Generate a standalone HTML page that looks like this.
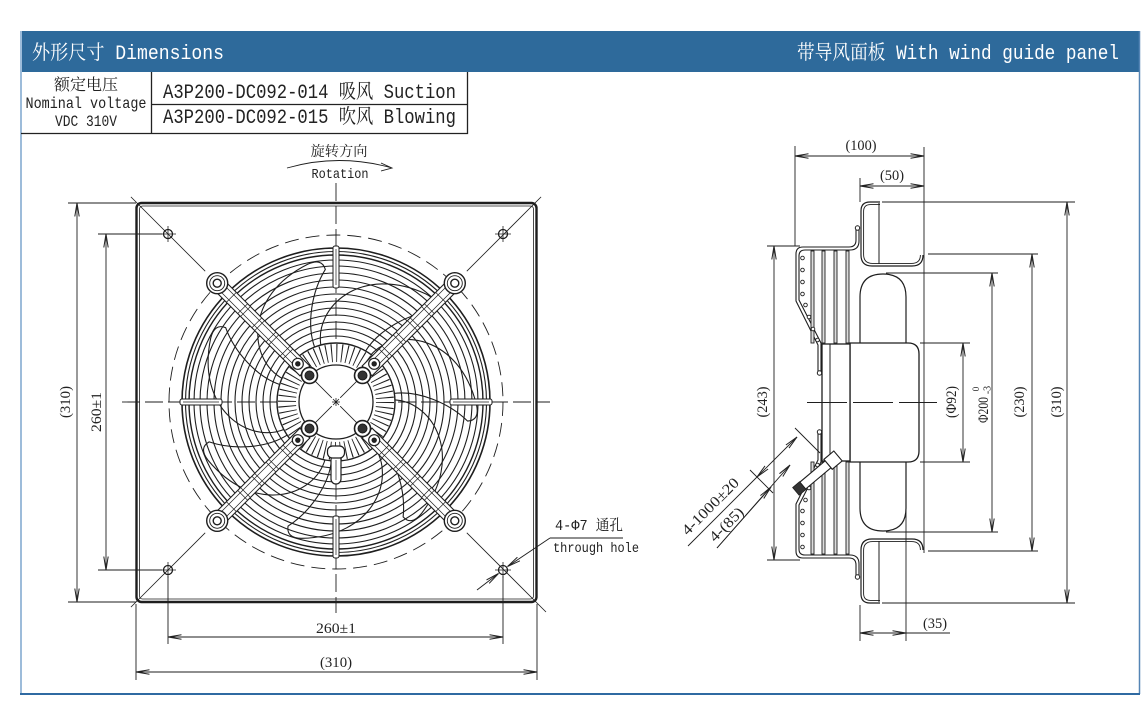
<!DOCTYPE html>
<html><head><meta charset="utf-8">
<style>
html,body{margin:0;padding:0;background:#fff;width:1147px;height:710px;overflow:hidden}
svg{display:block}
.m{font-family:"Liberation Mono","Noto Serif CJK SC",monospace}
.s{font-family:"Liberation Serif","Noto Serif CJK SC",serif}
</style></head>
<body>
<svg width="1147" height="710" viewBox="0 0 1147 710" xmlns="http://www.w3.org/2000/svg">
<defs>
 <marker id="ar" viewBox="0 0 14 8" markerWidth="14" markerHeight="8" refX="13.5" refY="4" orient="auto-start-reverse" markerUnits="userSpaceOnUse">
  <path d="M0,1.8 L13.5,4 L0,6.2" fill="none" stroke="#222" stroke-width="1"/>
 </marker>
 <path id="bl" d="M-15,-56 C-22,-95 25,-138 90,-108 Q104,-101 97,-91 C72,-88 42,-72 29,-50"/>
 <g id="arm">
  <rect x="44" y="-7" width="124" height="14" fill="#fff" stroke-width="1.1"/>
  <path d="M52,-3.5 H160 M52,3.5 H160" stroke-width="0.7"/>
  <path d="M68,-7 V7 M72,-7 V7 M88,-7 V7 M92,-7 V7 M108,-7 V7 M112,-7 V7 M128,-7 V7 M132,-7 V7 M148,-7 V7" stroke-width="0.7"/>
  <circle cx="168" cy="0" r="10.5" fill="#fff" stroke-width="1.4"/>
  <circle cx="168" cy="0" r="7.5" stroke-width="0.9"/>
  <circle cx="168" cy="0" r="4" stroke-width="1.4"/>
  <circle cx="54" cy="0" r="5.5" fill="#fff" stroke-width="1.2"/>
  <circle cx="54" cy="0" r="2.2" fill="#222"/>
  <circle cx="37.5" cy="0" r="8" fill="#fff" stroke-width="1.6"/>
  <circle cx="37.5" cy="0" r="4.5" fill="#333"/>
 </g>
 <g id="clip">
  <rect x="-3" y="-156" width="6" height="42" rx="2" fill="#fff" stroke-width="1"/>
  <line x1="0" y1="-153" x2="0" y2="-117" stroke-width="0.7"/>
 </g>
 <g id="hole">
  <circle cx="0" cy="0" r="4.5" stroke-width="1.3"/>
  <path d="M-8,0 H8 M0,-8 V8" stroke-width="0.8"/>
 </g>
</defs>

<!-- frame & header -->
<rect x="20" y="31" width="1120" height="41" fill="#2e6a9b"/>
<text x="32" y="59" class="m" font-size="20" fill="#fff" textLength="192" lengthAdjust="spacingAndGlyphs">外形尺寸 Dimensions</text>
<text x="797" y="59" class="m" font-size="20" fill="#fff" textLength="322" lengthAdjust="spacingAndGlyphs">带导风面板 With wind guide panel</text>
<line x1="21" y1="31" x2="21" y2="694" stroke="#9dbcda" stroke-width="2"/>
<line x1="1139.5" y1="31" x2="1139.5" y2="694" stroke="#5585b5" stroke-width="1.5"/>
<line x1="20" y1="694" x2="1140" y2="694" stroke="#2f6aa2" stroke-width="2"/>

<!-- table -->
<path d="M21,133.5 H467.5 V72 M151.5,72 V133.5 M151.5,104.5 H467.5" stroke="#222" stroke-width="1.3" fill="none"/>
<g fill="#222" class="m">
 <text x="86" y="90" text-anchor="middle" font-size="16" textLength="64" lengthAdjust="spacingAndGlyphs">额定电压</text>
 <text x="86" y="108" text-anchor="middle" font-size="16" textLength="121" lengthAdjust="spacingAndGlyphs">Nominal voltage</text>
 <text x="86" y="126" text-anchor="middle" font-size="16" textLength="62" lengthAdjust="spacingAndGlyphs">VDC 310V</text>
 <text x="163" y="98" font-size="20" textLength="293" lengthAdjust="spacingAndGlyphs">A3P200-DC092-014 吸风 Suction</text>
 <text x="163" y="123" font-size="20" textLength="293" lengthAdjust="spacingAndGlyphs">A3P200-DC092-015 吹风 Blowing</text>
</g>

<!-- ========== FRONT VIEW ========== -->
<g stroke="#1e1e1e" fill="none">
 <rect x="136.5" y="203" width="400" height="399" rx="5" stroke-width="2.4"/>
 <rect x="139.5" y="206" width="394" height="393" rx="3" stroke-width="0.8"/>
 <line x1="122" y1="402" x2="550" y2="402" stroke-width="0.9" stroke-dasharray="18 5"/>
 <line x1="336" y1="183" x2="336" y2="613" stroke-width="0.9" stroke-dasharray="18 5"/>
 <circle cx="336" cy="402" r="167" stroke-width="0.9" stroke-dasharray="14 7"/>
 <path d="M130.9,196.9 L205.2,271.2 M541.1,196.9 L466.8,271.2 M130.9,607.1 L205.2,532.8 M546,612 L466.8,532.8" stroke-width="0.8"/>
 <!-- holes -->
 <use href="#hole" transform="translate(168,234)"/>
 <use href="#hole" transform="translate(503,234)"/>
 <use href="#hole" transform="translate(168,570)"/>
 <use href="#hole" transform="translate(503,570)"/>

 <!-- blades -->
 <g transform="translate(336,402)" stroke-width="1.1">
  <use href="#bl"/>
  <use href="#bl" transform="rotate(51.43)"/>
  <use href="#bl" transform="rotate(102.86)"/>
  <use href="#bl" transform="rotate(154.29)"/>
  <use href="#bl" transform="rotate(205.71)"/>
  <use href="#bl" transform="rotate(257.14)"/>
  <use href="#bl" transform="rotate(308.57)"/>
 </g>
 <!-- guard rings -->
 <g stroke-width="1.1">
  <circle cx="336" cy="402" r="154" stroke-width="1.6"/>
  <circle cx="336" cy="402" r="150.5"/>
  <circle cx="336" cy="402" r="147" stroke-width="1.4"/>
  <circle cx="336" cy="402" r="142"/>
  <circle cx="336" cy="402" r="136"/>
  <circle cx="336" cy="402" r="129"/>
  <circle cx="336" cy="402" r="122"/>
  <circle cx="336" cy="402" r="115"/>
  <circle cx="336" cy="402" r="108"/>
  <circle cx="336" cy="402" r="101"/>
  <circle cx="336" cy="402" r="94"/>
  <circle cx="336" cy="402" r="87"/>
  <circle cx="336" cy="402" r="80"/>
  <circle cx="336" cy="402" r="73"/>
  <circle cx="336" cy="402" r="66"/>
 </g>
 <!-- hub -->
 <circle cx="336" cy="402" r="59" fill="#fff" stroke-width="1.4"/>
 <circle cx="336" cy="402" r="49" stroke-width="18" stroke-dasharray="1 4.13"/>
 <circle cx="336" cy="402" r="37" fill="#fff" stroke-width="1.3"/>
 <path d="M314.8,380.8 L331.8,397.8 M357.2,380.8 L340.2,397.8 M314.8,423.2 L331.8,406.2 M357.2,423.2 L340.2,406.2" stroke-width="0.8"/>
 <path d="M332,402 H340 M336,398 V406 M333,399 L339,405 M339,399 L333,405" stroke-width="0.8"/>
 <!-- clips -->
 <g transform="translate(336,402)">
  <use href="#clip"/>
  <use href="#clip" transform="rotate(90)"/>
  <use href="#clip" transform="rotate(180)"/>
  <use href="#clip" transform="rotate(270)"/>
 </g>
 <!-- arms -->
 <g transform="translate(336,402)">
  <use href="#arm" transform="rotate(-135)"/>
  <use href="#arm" transform="rotate(-45)"/>
  <use href="#arm" transform="rotate(45)"/>
  <use href="#arm" transform="rotate(135)"/>
 </g>
 <!-- cable gland -->
 <rect x="331" y="455" width="10" height="29" rx="5" fill="#fff" stroke-width="1.2"/>
 <rect x="327.5" y="446" width="17" height="12" rx="5" fill="#fff" stroke-width="1.2"/>
 <line x1="336" y1="460" x2="336" y2="480" stroke-width="0.7"/>

 <!-- front dims -->
 <g stroke-width="0.9">
  <path d="M68,203 H136 M68,602 H136 M98,234 H162 M98,570 H162"/>
  <path d="M168,576 V644 M503,576 V644 M136,604 V680 M537,604 V680"/>
  <line x1="77" y1="203" x2="77" y2="602" marker-start="url(#ar)" marker-end="url(#ar)"/>
  <line x1="106" y1="234" x2="106" y2="570" marker-start="url(#ar)" marker-end="url(#ar)"/>
  <line x1="168" y1="637" x2="503" y2="637" marker-start="url(#ar)" marker-end="url(#ar)"/>
  <line x1="136" y1="672" x2="537" y2="672" marker-start="url(#ar)" marker-end="url(#ar)"/>
  <path d="M623,538 H550"/>
  <line x1="550" y1="538" x2="507.5" y2="566.5" marker-end="url(#ar)"/>
  <line x1="477" y1="590" x2="498.5" y2="573.5" marker-end="url(#ar)"/>
  <path d="M287,168 Q339,153 392,168 M381,163 L392,168 L381,171"/>
 </g>
</g>

<!-- front texts -->
<g fill="#222">
 <text x="339" y="156" text-anchor="middle" class="s" font-size="14" textLength="57" lengthAdjust="spacingAndGlyphs">旋转方向</text>
 <text x="340" y="178" text-anchor="middle" class="m" font-size="14" textLength="57" lengthAdjust="spacingAndGlyphs">Rotation</text>
 <text x="336" y="633" text-anchor="middle" class="s" font-size="15" textLength="40" lengthAdjust="spacingAndGlyphs">260±1</text>
 <text x="336" y="667" text-anchor="middle" class="s" font-size="15" textLength="32" lengthAdjust="spacingAndGlyphs">(310)</text>
 <text transform="translate(66,402) rotate(-90)" text-anchor="middle" dominant-baseline="central" class="s" font-size="15" textLength="32" lengthAdjust="spacingAndGlyphs">(310)</text>
 <text transform="translate(97,412) rotate(-90)" text-anchor="middle" dominant-baseline="central" class="s" font-size="15" textLength="40" lengthAdjust="spacingAndGlyphs">260±1</text>
 <text x="555" y="530" class="m" font-size="15" textLength="68" lengthAdjust="spacingAndGlyphs">4-Φ7 通孔</text>
 <text x="553" y="552" class="m" font-size="14" textLength="86" lengthAdjust="spacingAndGlyphs">through hole</text>
</g>

<!-- ========== SIDE VIEW ========== -->
<g stroke="#1e1e1e" fill="none">
 <path d="M860,343 V297 Q860,274 883,274 Q906,274 906,297 V343" stroke-width="1.2"/>
 <path d="M860,462 V508 Q860,531 883,531 Q906,531 906,508 V462" stroke-width="1.2"/>
 <g id="pnl">
  <path d="M880,202 H870 Q861,202 861,211 V255 Q861,266 872,266 H912 Q923,266 923,255" stroke-width="1.2"/>
  <path d="M880,204.6 H870.5 Q863.6,204.6 863.6,211.5 V254.5 Q863.6,263.4 872.5,263.4 H911.5 Q920.4,263.4 920.4,255" stroke-width="0.9"/>
  <line x1="879" y1="203" x2="879" y2="264" stroke-width="1"/>
  <path d="M856,229 V240 Q856,247 849,247 H803 Q796,247 796,254 V301 L818,345 V372" stroke-width="1.1"/>
  <path d="M859,229 V241 Q859,250 850,250 H805 Q799,250 799,256 V300 L821,343 V372" stroke-width="1.1"/>
  <circle cx="857.5" cy="228" r="2.2" fill="#fff" stroke-width="1"/>
  <circle cx="819.5" cy="373" r="2.2" fill="#fff" stroke-width="1"/>
  <g fill="#ddd" stroke-width="0.9">
   <rect x="811" y="251" width="3" height="92"/>
   <rect x="822" y="251" width="3" height="92"/>
   <rect x="834" y="251" width="3" height="92"/>
   <rect x="846" y="251" width="3" height="92"/>
  </g>
  <g fill="#fff" stroke-width="0.9">
   <circle cx="802.5" cy="258" r="1.8"/><circle cx="802.5" cy="270" r="1.8"/>
   <circle cx="802.5" cy="282" r="1.8"/><circle cx="802.5" cy="294" r="1.8"/>
   <circle cx="805.5" cy="305" r="1.8"/><circle cx="809" cy="317" r="1.8"/>
   <circle cx="813" cy="329" r="1.8"/><circle cx="817.5" cy="340" r="1.8"/>
  </g>
 </g>
 <use href="#pnl" transform="matrix(1 0 0 -1 0 805)"/>
 <path d="M850,343 H908 Q919,343 919,354 V451 Q919,462 908,462 H850 Z" fill="#fff" stroke-width="1.3"/>
 <rect x="822" y="344" width="28" height="117" fill="#fff" stroke-width="1.3"/>
 <line x1="830" y1="344" x2="830" y2="461" stroke-width="1"/>
 <line x1="807" y1="402.5" x2="937" y2="402.5" stroke-width="0.9" stroke-dasharray="40 6"/>
 <g transform="translate(838,456) rotate(140)">
  <rect x="0" y="-6.5" width="13" height="13" fill="#fff" stroke-width="1.1"/>
  <rect x="13" y="-4.5" width="33" height="9" fill="#fff" stroke-width="1.1"/>
  <rect x="46" y="-5" width="9" height="10" fill="#333" stroke-width="0.8"/>
 </g>
 <g stroke-width="0.9">
  <path d="M795,146 V246 M924,147 V553 M860,178 V202 M906,463 V641 M860,605 V641"/>
  <path d="M882,202 H1075 M882,603 H1075 M928,254 H1038 M928,551 H1038 M886,273 H998 M886,532 H998 M920,343 H970 M920,462 H970 M767,246 H800 M767,560 H800"/>
  <line x1="795" y1="156" x2="924" y2="156" marker-start="url(#ar)" marker-end="url(#ar)"/>
  <line x1="860" y1="186" x2="924" y2="186" marker-start="url(#ar)" marker-end="url(#ar)"/>
  <line x1="1067" y1="202" x2="1067" y2="603" marker-start="url(#ar)" marker-end="url(#ar)"/>
  <line x1="1032" y1="254" x2="1032" y2="551" marker-start="url(#ar)" marker-end="url(#ar)"/>
  <line x1="992" y1="273" x2="992" y2="532" marker-start="url(#ar)" marker-end="url(#ar)"/>
  <line x1="963" y1="343" x2="963" y2="462" marker-start="url(#ar)" marker-end="url(#ar)"/>
  <line x1="774" y1="246" x2="774" y2="560" marker-start="url(#ar)" marker-end="url(#ar)"/>
  <line x1="860" y1="633" x2="906" y2="633" marker-start="url(#ar)" marker-end="url(#ar)"/>
  <line x1="906" y1="633" x2="950" y2="633"/>
  <path d="M795,428 L820,453 M750,470 L773,493"/>
  <line x1="757" y1="477" x2="797" y2="437" marker-start="url(#ar)" marker-end="url(#ar)"/>
  <line x1="688" y1="546" x2="757" y2="477"/>
  <line x1="717" y1="548" x2="790" y2="465" marker-end="url(#ar)"/>
  <line x1="717" y1="548" x2="771" y2="487" marker-end="url(#ar)"/>
 </g>
</g>

<!-- side texts -->
<g fill="#222" class="s" font-size="15">
 <text x="861" y="150" text-anchor="middle" textLength="31" lengthAdjust="spacingAndGlyphs">(100)</text>
 <text x="892" y="180" text-anchor="middle" textLength="24" lengthAdjust="spacingAndGlyphs">(50)</text>
 <text x="935" y="628" text-anchor="middle" textLength="24" lengthAdjust="spacingAndGlyphs">(35)</text>
 <text transform="translate(763,402) rotate(-90)" text-anchor="middle" dominant-baseline="central" textLength="31" lengthAdjust="spacingAndGlyphs">(243)</text>
 <text transform="translate(952,402) rotate(-90)" text-anchor="middle" dominant-baseline="central" textLength="32" lengthAdjust="spacingAndGlyphs">(Φ92)</text>
 <text transform="translate(984,410) rotate(-90)" text-anchor="middle" dominant-baseline="central" textLength="26" lengthAdjust="spacingAndGlyphs">Φ200</text>
 <text transform="translate(976,389) rotate(-90)" text-anchor="middle" dominant-baseline="central" font-size="9">0</text>
 <text transform="translate(988,390) rotate(-90)" text-anchor="middle" dominant-baseline="central" font-size="10">-3</text>
 <text transform="translate(1020,402) rotate(-90)" text-anchor="middle" dominant-baseline="central" textLength="31" lengthAdjust="spacingAndGlyphs">(230)</text>
 <text transform="translate(1057,402) rotate(-90)" text-anchor="middle" dominant-baseline="central" textLength="31" lengthAdjust="spacingAndGlyphs">(310)</text>
 <text transform="translate(711,507) rotate(-45)" text-anchor="middle" dominant-baseline="central" textLength="74" lengthAdjust="spacingAndGlyphs">4-1000±20</text>
 <text transform="translate(727,525) rotate(-45)" text-anchor="middle" dominant-baseline="central" textLength="42" lengthAdjust="spacingAndGlyphs">4-(85)</text>
</g>
</svg>
</body></html>
